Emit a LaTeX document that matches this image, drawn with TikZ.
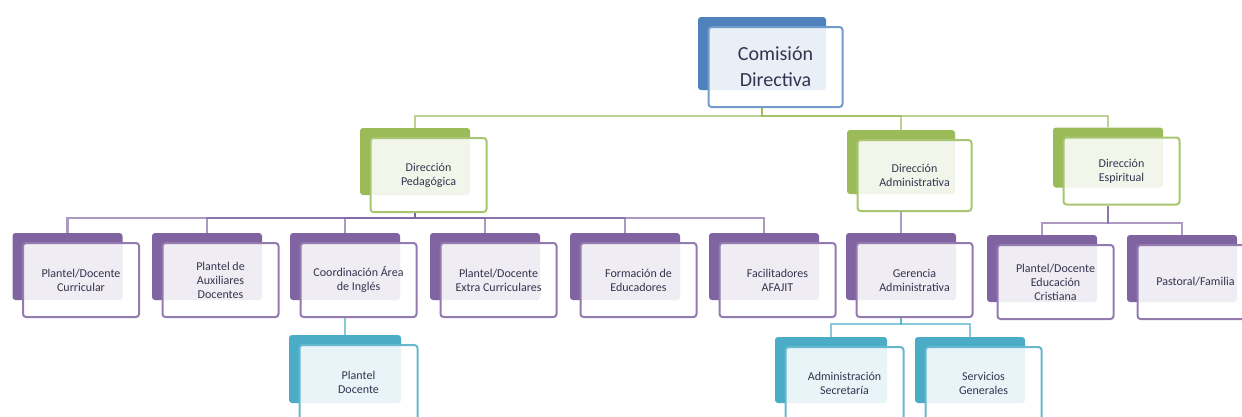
\documentclass[tikz,border=0pt]{standalone}
\usepackage{fontspec}
\setmainfont{Carlito}
\definecolor{cblue}{HTML}{4F81BD}
\definecolor{cgreen}{HTML}{9BBB59}
\definecolor{cpurple}{HTML}{8064A2}
\definecolor{cteal}{HTML}{4BACC6}
\definecolor{ctext}{HTML}{34344F}
\tikzset{
  backbox/.style={draw=none, rounded corners=3pt, inner sep=0pt},
  frontbox/.style={rounded corners=3pt, line width=2pt, fill=white, fill opacity=0.88,
    text opacity=1, align=center, inner sep=1pt, text=ctext,
    font=\fontsize{12}{14}\selectfont},
  blueback/.style={backbox, fill=cblue},
  bluefront/.style={frontbox, draw=cblue!80, font=\fontsize{20}{26}\selectfont},
  greenback/.style={backbox, fill=cgreen},
  greenfront/.style={frontbox, draw=cgreen!85},
  purpleback/.style={backbox, fill=cpurple},
  purplefront/.style={frontbox, draw=cpurple!85},
  tealback/.style={backbox, fill=cteal},
  tealfront/.style={frontbox, draw=cteal!85},
  conn/.style={line width=2.6pt, draw opacity=0.65},
  gconn/.style={conn, draw=cgreen},
  pconn/.style={conn, draw=cpurple},
  tconn/.style={conn, draw=cteal},
}
% name, colour, back centre x, back centre y, back width, back height, text
\newcommand\orgbox[7]{%
  \node[#2back, minimum width=#5pt, minimum height=#6pt] (#1b) at (#3,#4) {};
  \node[#2front, minimum width=#5pt+6pt, minimum height=#6pt+7pt]
    (#1) at ([xshift=13.5pt,yshift=-13.5pt]#1b.center) {#7};
}
\begin{document}
\begin{tikzpicture}[x=1pt,y=-1pt]
\useasboundingbox (0,0) rectangle (1242,416);
\clip (0,0) rectangle (1242,416);
\fill[white] (0,0) rectangle (1242,416);

\orgbox{cd}{blue}{762}{53.5}{128}{73}{Comisión\\Directiva}
\orgbox{ped}{green}{415}{161.5}{110}{67}{Dirección\\Pedagógica}
\orgbox{adm}{green}{901}{162}{108}{64}{Dirección\\Administrativa}
\orgbox{esp}{green}{1108}{157.5}{110}{60}{Dirección\\Espiritual}

\orgbox{cur}{purple}{67.5}{266.5}{110}{67}{Plantel/Docente\\Curricular}
\orgbox{aux}{purple}{207}{266.5}{110}{67}{Plantel de\\Auxiliares\\Docentes}
\orgbox{ing}{purple}{345}{266.5}{110}{67}{Coordinación Área\\de Inglés}
\orgbox{ext}{purple}{485}{266.5}{110}{67}{Plantel/Docente\\Extra Curriculares}
\orgbox{edu}{purple}{625}{266.5}{110}{67}{Formación de\\Educadores}
\orgbox{fac}{purple}{764}{266.5}{110}{67}{Facilitadores\\AFAJIT}
\orgbox{ger}{purple}{901}{266.5}{110}{67}{Gerencia\\Administrativa}
\orgbox{cri}{purple}{1042}{268.5}{110}{67}{Plantel/Docente\\Educación\\Cristiana}
\orgbox{fam}{purple}{1182}{268.5}{110}{67}{Pastoral/Familia}

\orgbox{pd}{teal}{345}{369}{112}{68}{Plantel\\Docente}
\orgbox{sec}{teal}{831}{370}{112}{66}{Administración\\Secretaría}
\orgbox{gen}{teal}{970}{370}{110}{66}{Servicios\\Generales}

\coordinate (gbar) at (0,116);
\coordinate (pbar) at (0,218);
\coordinate (ebar) at (0,223);
\coordinate (tbar) at (0,324);

\foreach \c in {ped,adm,esp}
  \draw[gconn] (cdb.south |- cd.south) -- (cdb.south |- gbar) -| (\c b.north);
\foreach \c in {cur,aux,ing,ext,edu,fac}
  \draw[pconn] (pedb.south |- ped.south) -- (pedb.south |- pbar) -| (\c b.north);
\draw[pconn] (admb.south |- adm.south) -- (gerb.north);
\foreach \c in {cri,fam}
  \draw[pconn] (espb.south |- esp.south) -- (espb.south |- ebar) -| (\c b.north);
\draw[tconn] (ingb.south |- ing.south) -- (pdb.north);
\foreach \c in {sec,gen}
  \draw[tconn] (gerb.south |- ger.south) -- (gerb.south |- tbar) -| (\c b.north);
\end{tikzpicture}
\end{document}
